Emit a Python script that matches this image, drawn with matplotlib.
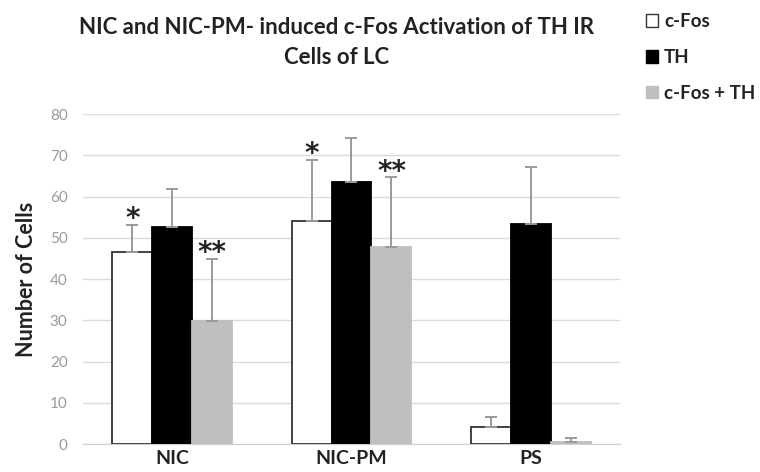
import numpy as np
import matplotlib
matplotlib.use('Agg')
import matplotlib.pyplot as plt
from matplotlib.patches import Patch

plt.rcParams['font.family'] = ['Lato', 'DejaVu Sans']

categories = ["NIC", "NIC-PM", "PS"]
series = ["c-Fos", "TH", "c-Fos + TH"]
cfos = [46.5, 54.1, 4.2]
th = [52.7, 63.5, 53.3]
both = [29.9, 47.7, 0.5]
cfos_err = [6.7, 14.8, 2.3]
th_err = [9.2, 10.8, 14.0]
both_err = [15.0, 17.0, 1.0]
stars = {(0, 0): "*", (0, 2): "**", (1, 0): "*", (1, 2): "**"}

values = [cfos, th, both]
errors = [cfos_err, th_err, both_err]
faces = ["white", "black", "#bfbfbf"]
edges = ["#333333", "black", "#bfbfbf"]

fig = plt.figure(figsize=(7.6, 4.72), dpi=100)
ax = fig.add_axes([0.109, 0.059, 0.707, 0.699])

x = np.arange(len(categories))
w = 0.223
for i in range(3):
    pos = x + (i - 1) * w
    ax.bar(pos, values[i], w, color=faces[i], edgecolor=edges[i], linewidth=1.3, zorder=3)
    ax.errorbar(pos, values[i], yerr=[np.zeros(3), errors[i]], fmt='none',
                ecolor='#9a9a9a', elinewidth=1.4, capsize=4.5, capthick=1.4, zorder=4)
    for j in range(3):
        if (j, i) in stars:
            ax.text(pos[j], values[i][j] + errors[i][j] - 0.6, stars[(j, i)],
                    ha='center', va='baseline', fontsize=20, fontweight='bold',
                    color='#222222', family='DejaVu Sans')

ax.set_ylim(0, 80)
ax.set_xlim(-0.5, 2.5)
ax.set_yticks(range(0, 81, 10))
ax.yaxis.grid(True, color='#dcdcdc', linewidth=1)
ax.set_axisbelow(True)
for s in ['top', 'right', 'left']:
    ax.spines[s].set_visible(False)
ax.spines['bottom'].set_color('#cfcfcf')
ax.tick_params(axis='both', length=0)
ax.tick_params(axis='y', labelsize=11, labelcolor='#9a9a9a', pad=11)
ax.tick_params(axis='x', pad=4)
ax.set_xticks(x)
ax.set_xticklabels(categories, fontsize=14, fontweight='bold', color='#222222')
ax.set_ylabel("Number of Cells", fontsize=15.5, fontweight='bold', color='#222222', labelpad=9)

fig.text(0.443, 0.965, "NIC and NIC-PM- induced c-Fos Activation of TH IR\nCells of LC",
         ha='center', va='top', fontsize=16, fontweight='bold', color='#222222',
         linespacing=1.55)

handles = [Patch(facecolor=faces[i], edgecolor=edges[i], linewidth=1) for i in range(3)]
fig.legend(handles, series, loc='upper left', bbox_to_anchor=(0.828, 1.008), frameon=False,
           handlelength=0.65, handleheight=0.65, handletextpad=0.3, labelspacing=1.0,
           prop={'weight': 'bold', 'size': 13.5}, labelcolor='#222222')

fig.savefig('out.png', dpi=100)
